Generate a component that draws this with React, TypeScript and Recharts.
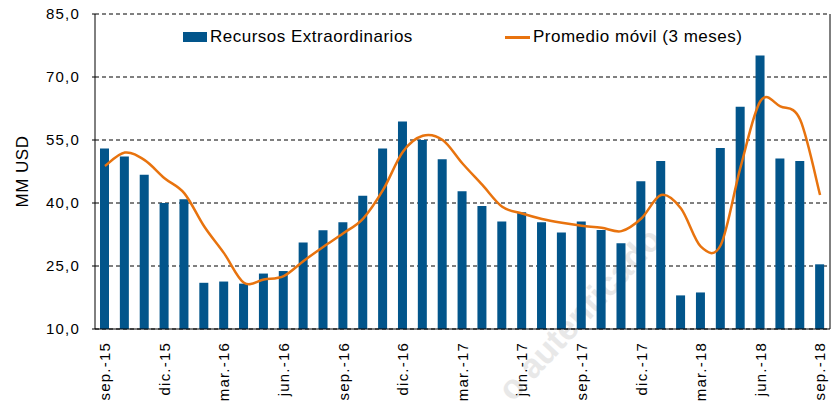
import React from "react";
import {
  ComposedChart,
  Bar,
  Line,
  XAxis,
  YAxis,
  CartesianGrid,
} from "recharts";

const months = [
  "sep.-15", "oct.-15", "nov.-15", "dic.-15", "ene.-16", "feb.-16", "mar.-16", "abr.-16",
  "may.-16", "jun.-16", "jul.-16", "ago.-16", "sep.-16", "oct.-16", "nov.-16", "dic.-16",
  "ene.-17", "feb.-17", "mar.-17", "abr.-17", "may.-17", "jun.-17", "jul.-17", "ago.-17",
  "sep.-17", "oct.-17", "nov.-17", "dic.-17", "ene.-18", "feb.-18", "mar.-18", "abr.-18",
  "may.-18", "jun.-18", "jul.-18", "ago.-18", "sep.-18",
];

const recursos = [
  53.0, 51.1, 46.7, 40.0, 40.9, 21.0, 21.3, 20.8, 23.2, 23.8, 30.6, 33.5,
  35.4, 41.7, 53.0, 59.4, 55.0, 50.4, 42.8, 39.3, 35.6, 37.8, 35.4, 33.0,
  35.6, 33.6, 30.4, 45.2, 50.0, 18.0, 18.7, 53.1, 62.9, 75.1, 50.6, 50.0, 25.4,
];

const promedio = [
  48.8, 52.0, 50.2, 45.9, 42.3, 34.4, 28.0, 21.0, 21.8, 22.6, 26.2, 29.6,
  32.8, 36.3, 43.1, 52.2, 56.0, 55.0, 49.4, 44.3, 39.1, 37.5, 36.2, 35.3,
  34.6, 34.1, 33.3, 36.3, 41.9, 38.7, 29.6, 30.0, 48.6, 64.3, 63.0, 59.8, 41.9,
];

const yTicks = [10, 25, 40, 55, 70, 85];

const data = months.map((m, i) => ({ month: m, recursos: recursos[i], promedio: promedio[i] }));

const FONT = "'Liberation Sans', Arial, sans-serif";
const BLUE = "#02558B";
const ORANGE = "#E8730E";

// smoothed line like the spreadsheet one (catmull-rom through the points)
const smoothCurve = (context: any) => {
  let pts: number[][] = [];
  return {
    areaStart() {},
    areaEnd() {},
    lineStart() {
      pts = [];
    },
    point(x: number, y: number) {
      pts.push([+x, +y]);
    },
    lineEnd() {
      if (!pts.length) return;
      context.moveTo(pts[0][0], pts[0][1]);
      for (let i = 0; i < pts.length - 1; i++) {
        const p0 = pts[i - 1] || pts[i];
        const p1 = pts[i];
        const p2 = pts[i + 1];
        const p3 = pts[i + 2] || p2;
        context.bezierCurveTo(
          p1[0] + (p2[0] - p0[0]) / 6,
          p1[1] + (p2[1] - p0[1]) / 6,
          p2[0] - (p3[0] - p1[0]) / 6,
          p2[1] - (p3[1] - p1[1]) / 6,
          p2[0],
          p2[1]
        );
      }
    },
  };
};

const XTick = ({ x, y, payload }: any) => (
  <text
    transform={`translate(${x},${y}) rotate(-90)`}
    textAnchor="end"
    dy="0.35em"
    fontSize={15}
    letterSpacing={1.2}
    fill="#000"
    fontFamily={FONT}
  >
    {payload.value}
  </text>
);

const YLabel = ({ viewBox }: any) => {
  const cy = viewBox.y + viewBox.height / 2;
  return (
    <text
      transform={`translate(22,${cy}) rotate(-90)`}
      textAnchor="middle"
      dy="0.35em"
      fontSize={17}
      letterSpacing={0.5}
      fill="#000"
      fontFamily={FONT}
    >
      MM USD
    </text>
  );
};

export default function App() {
  return (
    <div style={{ position: "absolute", left: 0, top: 0, width: 835, height: 408, background: "#fff", fontFamily: FONT }}>
      {/* faint watermark behind the chart */}
      <svg width={835} height={408} style={{ position: "absolute", left: 0, top: 0 }}>
        <text
          transform="translate(588,322) rotate(-47)"
          textAnchor="middle"
          fontSize={34}
          fontWeight="bold"
          fill="#e8e8e8"
          fontFamily={FONT}
        >
          o autenticado
        </text>
      </svg>
      <div style={{ position: "absolute", left: 0, top: 0 }}>
        <ComposedChart width={835} height={408} data={data} margin={{ top: 14, right: 0, bottom: 0, left: 0 }}>
          <CartesianGrid vertical={false} stroke="#000" strokeDasharray="4 3" />
          <XAxis
            dataKey="month"
            interval={2}
            height={79}
            tickLine={false}
            tickSize={0}
            tickMargin={13}
            axisLine={{ stroke: "#000" }}
            tick={<XTick />}
          />
          <YAxis
            width={95}
            domain={[10, 85]}
            ticks={yTicks}
            tickFormatter={(v: number) => v.toFixed(1).replace(".", ",")}
            tickSize={3}
            tickMargin={12}
            axisLine={{ stroke: "#000" }}
            tickLine={{ stroke: "#000" }}
            tick={{ fill: "#000", fontSize: 15, letterSpacing: 1.2, fontFamily: FONT }}
            label={<YLabel />}
          />
          <YAxis
            yAxisId="r"
            orientation="right"
            width={5}
            domain={[10, 85]}
            tick={false}
            tickLine={false}
            axisLine={{ stroke: "#000" }}
          />
          <Bar dataKey="recursos" fill={BLUE} barSize={9} isAnimationActive={false} />
          <Line
            dataKey="promedio"
            type={smoothCurve as any}
            stroke={ORANGE}
            strokeWidth={2.5}
            dot={false}
            isAnimationActive={false}
          />
        </ComposedChart>
      </div>
      {/* legend */}
      <div style={{ position: "absolute", left: 183, top: 32, width: 24, height: 10, background: BLUE }} />
      <div style={{ position: "absolute", left: 210, top: 27, fontSize: 17, letterSpacing: 0.5, lineHeight: "20px", color: "#000", whiteSpace: "nowrap" }}>
        Recursos Extraordinarios
      </div>
      <div style={{ position: "absolute", left: 505, top: 36, width: 25, height: 3, background: ORANGE }} />
      <div style={{ position: "absolute", left: 533, top: 27, fontSize: 17, letterSpacing: 0.5, lineHeight: "20px", color: "#000", whiteSpace: "nowrap" }}>
        Promedio móvil (3 meses)
      </div>
    </div>
  );
}
